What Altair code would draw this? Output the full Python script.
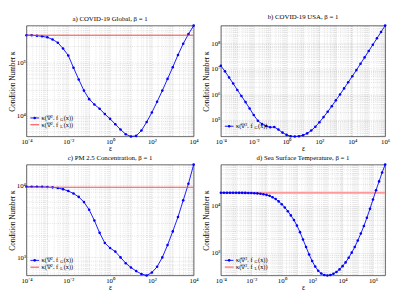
import math
import altair as alt
import pandas as pd

FONT = "Liberation Serif"
BLUE = "#0000ff"

# ---------------- data: log10 exponents ----------------
# a) COVID-19 Global
a_eps_exp = [-4.0, -3.75, -3.5, -3.25, -3.0, -2.75, -2.5, -2.25, -2.0, -1.75, -1.5,
             -1.25, -1.0, -0.75, -0.5, -0.25, 0.0, 0.25, 0.5, 0.75, 1.0, 1.25, 1.5,
             1.75, 2.0, 2.25, 2.5, 2.75, 3.0, 3.25, 3.5, 3.75, 4.0]
a_blue_exp = [5.51, 5.51, 5.50, 5.49, 5.47, 5.43, 5.37, 5.26, 5.13, 4.90, 4.68,
              4.47, 4.31, 4.21, 4.13, 4.03, 3.94, 3.84, 3.74, 3.65, 3.61, 3.62, 3.72,
              3.88, 4.06, 4.26, 4.47, 4.69, 4.91, 5.14, 5.35, 5.53, 5.69]
a_red_exp = 5.51

# b) COVID-19 USA
b_eps_exp = [-4.0, -3.75, -3.5, -3.25, -3.0, -2.75, -2.5, -2.25, -2.0, -1.75, -1.5,
             -1.25, -1.0, -0.75, -0.5, -0.25, 0.0, 0.25, 0.5, 0.75, 1.0, 1.25, 1.5,
             1.75, 2.0, 2.25, 2.5, 2.75, 3.0, 3.25, 3.5, 3.75, 4.0, 4.25, 4.5, 4.75,
             5.0, 5.25, 5.5, 5.75, 6.0]
b_blue_exp = [7.12, 6.90, 6.66, 6.42, 6.17, 5.93, 5.69, 5.44, 5.18, 4.96, 4.83,
              4.75, 4.70, 4.71, 4.61, 4.49, 4.40, 4.35, 4.34, 4.35, 4.39, 4.46, 4.57,
              4.72, 4.90, 5.10, 5.31, 5.53, 5.76, 5.99, 6.23, 6.47, 6.71, 6.95, 7.20, 7.45,
              7.70, 7.95, 8.20, 8.45, 8.70]

# c) PM 2.5 Concentration
c_eps_exp = a_eps_exp
c_blue_exp = [3.979, 3.979, 3.979, 3.977, 3.974, 3.970, 3.962, 3.945, 3.919, 3.885, 3.838,
              3.766, 3.66, 3.51, 3.34, 3.20, 3.13, 3.08, 3.00, 2.92, 2.86, 2.81, 2.77,
              2.75, 2.79, 2.87, 3.00, 3.17, 3.36, 3.56, 3.79, 4.02, 4.285]
c_red_exp = 3.972

# d) Sea Surface Temperature
d_eps_exp = [-4.0, -3.8, -3.6, -3.4, -3.2, -3.0, -2.8, -2.6, -2.4, -2.2,
             -2.0, -1.8, -1.6, -1.4, -1.2, -1.0, -0.8, -0.6, -0.4, -0.2,
             0.0, 0.2, 0.4, 0.6, 0.8, 1.0, 1.2, 1.4, 1.6, 1.8,
             2.0, 2.2, 2.4, 2.6, 2.8, 3.0, 3.2, 3.4, 3.6, 3.8,
             4.0, 4.2, 4.4, 4.6, 4.8, 5.0, 5.2, 5.4, 5.6, 5.8,
             6.0, 6.2, 6.4, 6.6, 6.8]
d_blue_exp = [4.285, 4.285, 4.285, 4.285, 4.285, 4.285, 4.284, 4.284, 4.283, 4.282,
              4.280, 4.277, 4.272, 4.265, 4.255, 4.240, 4.22, 4.19, 4.15, 4.10,
              4.04, 3.97, 3.89, 3.80, 3.70, 3.58, 3.44, 3.28, 3.12, 2.96,
              2.82, 2.70, 2.61, 2.55, 2.52, 2.51, 2.52, 2.545, 2.585, 2.64,
              2.71, 2.79, 2.89, 3.00, 3.12, 3.26, 3.41, 3.57, 3.75, 3.94,
              4.14, 4.34, 4.53, 4.72, 4.89]
d_red_exp = 4.285

titles = ["a) COVID-19 Global, β = 1", "b) COVID-19 USA, β = 1",
          "c) PM 2.5 Concentration, β = 1", "d) Sea Surface Temperature, β = 1"]
y_title = "Condition Number κ"
x_title = "ε"
legend_main = "κ(∇²ₓ f"
legend_tail = "(x))"
legend_subs = {"blue": "G", "red": "L"}

# ---------------- layout ----------------
W_L, W_R, H = 172, 169, 114

ISDEC = "abs(log(datum.value)/LN10 - round(log(datum.value)/LN10)) < 0.001"
EXPO = "round(log(datum.value)/LN10)"
_s = "('' + " + EXPO + ")"
for src, dst in [("-", "⁻"), ("0", "⁰"), ("1", "¹"), ("2", "²"), ("3", "³"),
                 ("4", "⁴"), ("5", "⁵"), ("6", "⁶"), ("7", "⁷"), ("8", "⁸"), ("9", "⁹")]:
    _s = f"replace({_s}, '{src}', '{dst}')"
SUP = "'10' + " + _s
X_LABEL = f"(({ISDEC}) && ({EXPO}) % 2 == 0) ? {SUP} : ''"
Y_LABEL = f"({ISDEC}) ? {SUP} : ''"


def log_ticks(lo, hi):
    vals = []
    for e in range(math.floor(math.log10(lo)) - 1, math.ceil(math.log10(hi)) + 1):
        for m in range(1, 10):
            v = m * 10.0 ** e
            if lo * 0.9999 <= v <= hi * 1.0001:
                vals.append(v)
    return vals


def make_axis(values, label_expr, title):
    return alt.Axis(
        values=values, labelExpr=label_expr, title=title, ticks=False, domain=False,
        labelFont=FONT, labelFontSize=7, labelColor="black", labelPadding=1,
        labelOverlap=False, labelFlush=False,
        titleFont=FONT, titleFontSize=7.5, titleFontWeight="normal", titleColor="black",
        titlePadding=0,
        grid=True, gridColor="#262626", gridWidth=0.6,
        gridOpacity={"condition": {"test": ISDEC, "value": 0.15}, "value": 0.2},
        gridDash={"condition": {"test": ISDEC, "value": [2, 1]}, "value": [1, 1]},
    )


ONE = alt.Data(values=[{"k": 0}])


def legend_entry(y, kind, red_color=None, red_width=1.0, fs=6.5):
    layers = []
    if kind == "blue":
        layers.append(alt.Chart(ONE).mark_rule(color=BLUE, strokeWidth=0.9).encode(
            x=alt.value(4), x2=alt.value(13), y=alt.value(y)))
        layers.append(alt.Chart(ONE).mark_point(filled=True, size=7, color=BLUE, opacity=1).encode(
            x=alt.value(8.5), y=alt.value(y)))
    else:
        layers.append(alt.Chart(ONE).mark_rule(color=red_color, strokeWidth=red_width).encode(
            x=alt.value(4), x2=alt.value(13), y=alt.value(y)))
    x0 = 15.5
    parts = [
        (legend_main, 0.0, 0.0, fs),
        (legend_subs[kind], 2.95 * fs, 0.28 * fs, fs * 0.68),
        (legend_tail, 3.5 * fs, 0.0, fs),
    ]
    for txt, dx, dy, size in parts:
        layers.append(alt.Chart(ONE).mark_text(
            text=txt, font=FONT, fontSize=size, align="left", baseline="middle",
            color="black", dx=dx, dy=dy).encode(x=alt.value(x0), y=alt.value(y)))
    return layers


def panel(title, eps_exp, blue_exp, red_exp, width, legend, red_color="#ff3b3b",
          red_width=1.0, red_on_top=True):
    eps = [10.0 ** e for e in eps_exp]
    kap = [10.0 ** v for v in blue_exp]
    xmin, xmax = min(eps), max(eps)
    yv = kap + ([10.0 ** red_exp] if red_exp is not None else [])
    ymin, ymax = min(yv), max(yv)
    xs = alt.X("eps:Q", scale=alt.Scale(type="log", domain=[xmin, xmax], nice=False),
               axis=make_axis(log_ticks(xmin, xmax), X_LABEL, x_title))
    ys = alt.Y("kappa:Q", scale=alt.Scale(type="log", domain=[ymin, ymax], nice=False),
               axis=make_axis(log_ticks(ymin, ymax), Y_LABEL, y_title))
    df = pd.DataFrame({"eps": eps, "kappa": kap})
    blue_mark = dict(color=BLUE, strokeWidth=0.9,
                     point=alt.OverlayMarkDef(filled=True, size=7, color=BLUE, opacity=1))
    layers = []
    if red_exp is not None:
        rdf = pd.DataFrame({"eps": [xmin, xmax], "kappa": [10.0 ** red_exp] * 2})
        red_mark = dict(color=red_color, strokeWidth=red_width)
        if red_on_top:
            layers = [alt.Chart(df).mark_line(**blue_mark).encode(x=xs, y=ys),
                      alt.Chart(rdf).mark_line(**red_mark).encode(x="eps:Q", y="kappa:Q")]
        else:
            layers = [alt.Chart(rdf).mark_line(**red_mark).encode(x=xs, y=ys),
                      alt.Chart(df).mark_line(**blue_mark).encode(x="eps:Q", y="kappa:Q")]
    else:
        layers = [alt.Chart(df).mark_line(**blue_mark).encode(x=xs, y=ys)]
    for item in legend:
        layers += legend_entry(*item)
    return alt.layer(*layers).properties(
        width=width, height=H,
        title=alt.TitleParams(title, font=FONT, fontSize=7, fontWeight="normal",
                              color="black", offset=2, frame="group"))


pa = panel(titles[0], a_eps_exp, a_blue_exp, a_red_exp, W_L,
           [(H - 19, "blue"), (H - 12, "red", "#ff3b3b", 1.0)])
pb = panel(titles[1], b_eps_exp, b_blue_exp, None, W_R,
           [(H - 10.5, "blue")])
pc = panel(titles[2], c_eps_exp, c_blue_exp, c_red_exp, W_L,
           [(H - 15.5, "blue"), (H - 8.5, "red", "#ff4a4a", 1.1)],
           red_color="#ff4a4a", red_width=1.1)
pd_ = panel(titles[3], d_eps_exp, d_blue_exp, d_red_exp, W_R,
            [(H - 15.5, "blue"), (H - 8.5, "red", "#ff9a9a", 2.0)],
            red_color="#ff9a9a", red_width=2.0, red_on_top=False)

chart = alt.concat(pa, pb, pc, pd_, columns=2, spacing={"row": 1, "column": 3},
                   padding=0).configure_view(stroke="#262626", strokeWidth=0.7)

chart.save("out.html", embed_options={"renderer": "svg", "actions": False})
